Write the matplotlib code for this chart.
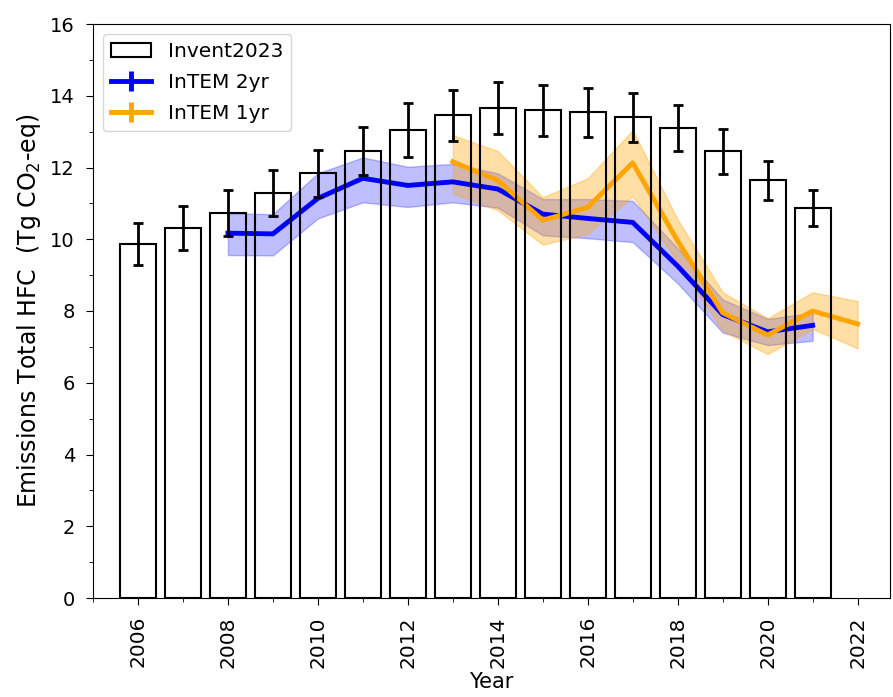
import numpy as np
import matplotlib
matplotlib.use("Agg")
import matplotlib.pyplot as plt

# Inventory (bars) with uncertainty
inv_years = np.arange(2006, 2022)
inv_vals = [9.86, 10.31, 10.72, 11.28, 11.84, 12.45, 13.04, 13.45,
            13.65, 13.59, 13.54, 13.40, 13.09, 12.45, 11.64, 10.86]
inv_err = [0.58, 0.61, 0.64, 0.64, 0.65, 0.67, 0.75, 0.72,
           0.72, 0.71, 0.68, 0.68, 0.64, 0.62, 0.55, 0.50]

# InTEM 2yr inversion
y2_years = np.arange(2008, 2022)
y2_mean = [10.17, 10.15, 11.14, 11.70, 11.50, 11.60, 11.40, 10.70,
           10.58, 10.47, 9.25, 7.90, 7.42, 7.60]
y2_low = [9.56, 9.55, 10.58, 11.03, 10.90, 11.03, 10.88, 10.11,
          10.03, 9.92, 8.77, 7.40, 7.05, 7.17]
y2_high = [10.72, 10.70, 11.84, 12.28, 12.02, 12.10, 11.84, 11.12,
           11.12, 11.07, 9.75, 8.32, 7.78, 7.95]

# InTEM 1yr inversion
y1_years = np.arange(2013, 2023)
y1_mean = [12.16, 11.64, 10.53, 10.89, 12.13, 9.95, 7.95, 7.33, 8.00, 7.64]
y1_low = [11.28, 10.81, 9.85, 10.15, 11.20, 9.35, 7.45, 6.80, 7.50, 6.96]
y1_high = [12.90, 12.46, 11.17, 11.70, 13.04, 10.55, 8.52, 7.80, 8.52, 8.28]

fig = plt.figure(figsize=(8.93, 6.97), dpi=100)
ax = fig.add_axes([93 / 893, 1 - 598 / 697, 797 / 893, 574 / 697])

ax.fill_between(y2_years, y2_low, y2_high, color="blue", alpha=0.25, zorder=1)
ax.errorbar(y2_years, y2_mean, yerr=np.zeros(len(y2_years)), color="blue",
            linewidth=3.5, elinewidth=3.5, label="InTEM 2yr", zorder=2)

ax.fill_between(y1_years, y1_low, y1_high, color="orange", alpha=0.35, zorder=1)
ax.errorbar(y1_years, y1_mean, yerr=np.zeros(len(y1_years)), color="orange",
            linewidth=3.5, elinewidth=3.5, label="InTEM 1yr", zorder=2)

ax.bar(inv_years, inv_vals, width=0.8, fill=False, edgecolor="black",
       linewidth=1.5, label="Invent2023", zorder=3)
ax.errorbar(inv_years, inv_vals, yerr=inv_err, fmt="none", ecolor="black",
            elinewidth=2, capsize=3.5, capthick=2, zorder=4)

ax.set_xlim(2005.02, 2022.72)
ax.set_ylim(0, 16)
ax.set_xticks(np.arange(2006, 2023, 2))
ax.set_xticks(np.arange(2005, 2023, 1), minor=True)
ax.set_yticks(np.arange(0, 17, 2))
ax.set_yticks(np.arange(1, 16, 2), minor=True)
ax.tick_params(which="major", length=5, pad=8)
ax.tick_params(which="minor", length=3)
ax.tick_params(axis="x", labelrotation=90, labelsize=14.5)
ax.tick_params(axis="y", labelsize=14)

ax.set_xlabel("Year", fontsize=15, labelpad=3)
ax.set_ylabel("Emissions Total HFC  (Tg CO$_2$-eq)", fontsize=17, labelpad=5)

handles, labels = ax.get_legend_handles_labels()
order = [labels.index("Invent2023"), labels.index("InTEM 2yr"), labels.index("InTEM 1yr")]
ax.legend([handles[i] for i in order], [labels[i] for i in order],
          loc="upper left", fontsize=14.5, labelspacing=0.6)

fig.savefig("out.png", dpi=100)
